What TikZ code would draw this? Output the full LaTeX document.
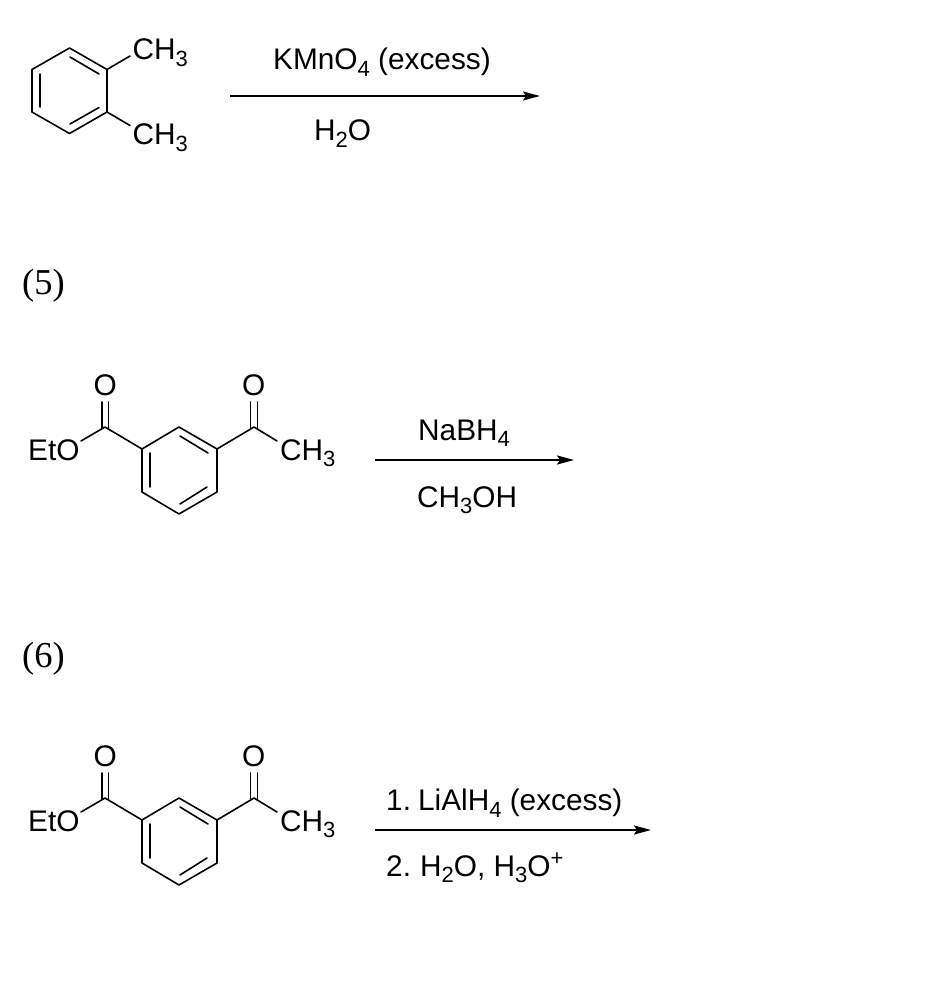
\documentclass[tikz,border=0pt]{standalone}
\usepackage{fontspec}
\setmainfont{Liberation Sans}
\newfontfamily\serifnum{Liberation Serif}
\usetikzlibrary{arrows.meta}
\newcommand\chemsub[1]{\raisebox{-6.5pt}{\fontsize{22}{22}\selectfont #1}}
\newcommand\chemsup[1]{\raisebox{11pt}{\fontsize{22}{22}\selectfont #1}}
\tikzset{
  x=1pt,y=-1pt,
  bond/.style={line width=1.6pt,line cap=round,line join=round,black},
  chem/.style={inner sep=0pt,anchor=base west,font=\fontsize{29.8}{32}\selectfont,text=black},
  tag/.style={inner sep=0pt,anchor=base west,font=\serifnum\fontsize{36.5}{38}\selectfont,text=black},
  rxn/.style={line width=1.9pt,black,-{Stealth[length=17pt,width=9pt,inset=3pt]}},
  ketoester/.pic={
    \coordinate (a) at (179,427);
    \coordinate (b) at (217,449);
    \coordinate (c) at (217,492);
    \coordinate (d) at (179,514);
    \coordinate (e) at (142,492);
    \coordinate (f) at (142,449);
    \coordinate (cl) at (105,427);
    \coordinate (cr) at (254,427);
    \coordinate (ol) at (81,441);
    \coordinate (mr) at (277,441);
    \draw[bond] (a)--(b)--(c)--(d)--(e)--(f)--cycle;
    \draw[bond] (150,453)--(150,487);
    \draw[bond] (180,436)--(208,453);
    \draw[bond] (180,504)--(207,487);
    \draw[bond] (f)--(cl)--(ol);
    \draw[bond] (b)--(cr)--(mr);
    \draw[bond] (101.7,402)--(101.7,428.5);
    \draw[bond] (108.3,402)--(108.3,428.5);
    \draw[bond] (250.3,402)--(250.3,428.5);
    \draw[bond] (257.3,402)--(257.3,428.5);
    \node[chem] (eto) at (28,460) {EtO};
    \node[chem] (ketoo) at (93.5,395) {O};
    \node[chem] (keto2) at (242,395) {O};
    \node[chem] (me) at (280,460) {CH\chemsub{3}};
  }
}
\begin{document}
\begin{tikzpicture}
\useasboundingbox (0,0) rectangle (942,992);
% top molecule
\coordinate (ta) at (69.5,48);
\coordinate (tb) at (107,69.5);
\coordinate (tc) at (107,112);
\coordinate (td) at (69.5,133.5);
\coordinate (te) at (32,112);
\coordinate (tf) at (32,69.5);
\coordinate (tm1) at (130,56);
\coordinate (tm2) at (130,125.5);
\draw[bond] (ta)--(tb)--(tc)--(td)--(te)--(tf)--cycle;
\draw[bond] (40,74)--(40,107);
\draw[bond] (70,57)--(99,74);
\draw[bond] (70,124)--(99,107.5);
\draw[bond] (tb)--(tm1);
\draw[bond] (tc)--(tm2);
\node[chem] (ch3a) at (132.5,60) {CH\chemsub{3}};
\node[chem] (ch3b) at (132.5,145) {CH\chemsub{3}};
\node[chem] (kmno) at (273,70) {KMnO\chemsub{4} (excess)};
\node[chem] (wat) at (314,141) {H\chemsub{2}O};
\coordinate (r1s) at (230,96);
\coordinate (r1e) at (540,96);
\draw[rxn] (r1s)--(r1e);
% (5)
\node[tag] (five) at (22,294) {(5)};
\pic (m5) at (0,0) {ketoester};
\node[chem] (nabh) at (418,440) {NaBH\chemsub{4}};
\node[chem] (meoh) at (417,507) {CH\chemsub{3}OH};
\coordinate (r2s) at (375,460);
\coordinate (r2e) at (574,460);
\draw[rxn] (r2s)--(r2e);
% (6)
\node[tag] (six) at (22,667) {(6)};
\pic (m6) at (0,371) {ketoester};
\node[chem] (lah) at (386,810.5) {1.\hspace{-4pt} LiAlH\chemsub{4} (excess)};
\node[chem] (acid) at (386,876) {2.\hspace{-2pt} H\chemsub{2}O, H\chemsub{3}O\chemsup{+}};
\coordinate (r3s) at (375,830);
\coordinate (r3e) at (651,830);
\draw[rxn] (r3s)--(r3e);
\end{tikzpicture}
\end{document}
